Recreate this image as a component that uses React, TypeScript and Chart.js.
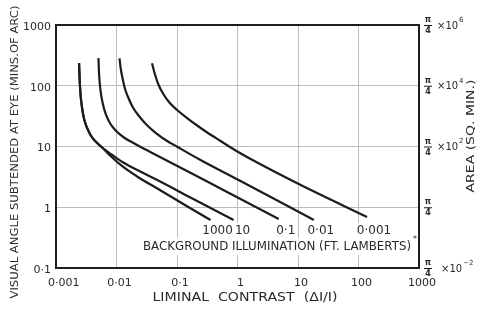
import React, { useEffect, useRef } from "react";
import { Chart, registerables } from "chart.js";

Chart.register(...registerables);

// ---- data ----
const xTickValues = [0.001, 0.01, 0.1, 1, 10, 100, 1000];
const xTickLabels = ["0·001", "0·01", "0·1", "1", "10", "100", "1000"];
const yTickValues = [0.1, 1, 10, 100, 1000];
const yTickLabels = ["0·1", "1", "10", "100", "1000"];
const areaExponents = ["-2", "", "2", "4", "6"]; // right axis: π/4 × 10^n

const illuminationLabels = ["1000", "10", "0·1", "0·01", "0·001"];

const curve1000X = [0.002406, 0.002462, 0.002549, 0.002699, 0.002912, 0.003266, 0.003805, 0.004605, 0.005793, 0.008488, 0.01291, 0.02472, 0.04731, 0.1488, 0.358];
const curve1000Y = [236.8, 124.4, 70.4, 43.0, 28.4, 20.2, 14.9, 11.86, 9.63, 6.59, 4.6, 2.97, 2.035, 1.029, 0.617];

const curve10X = [0.002406, 0.002462, 0.002549, 0.002699, 0.002912, 0.003266, 0.003805, 0.004605, 0.005793, 0.008488, 0.01291, 0.02472, 0.04731, 0.1668, 0.8616];
const curve10Y = [236.8, 124.4, 70.4, 43.0, 28.4, 20.2, 14.9, 11.86, 9.63, 7.25, 5.45, 3.88, 2.81, 1.447, 0.617];

const curve01X = [0.005029, 0.005165, 0.005429, 0.005903, 0.006621, 0.007861, 0.009886, 0.01327, 0.02042, 0.03622, 0.08716, 0.3157, 1.043, 4.804];
const curve01Y = [286.3, 150.3, 85.1, 52.0, 34.3, 23.9, 18.0, 14.07, 11.0, 8.12, 5.15, 2.654, 1.42, 0.641];

const curve001X = [0.01121, 0.01174, 0.01277, 0.01384, 0.01545, 0.01892, 0.02406, 0.03229, 0.04552, 0.06672, 0.1004, 0.2444, 1.043, 3.54, 18.28];
const curve001Y = [283.1, 192.3, 124.4, 88.4, 66.0, 43.0, 30.9, 22.2, 16.5, 12.56, 9.92, 6.0, 2.81, 1.475, 0.617];

const curve0001X = [0.03866, 0.043, 0.04971, 0.05948, 0.07482, 0.1004, 0.1432, 0.2098, 0.3157, 0.5246, 0.9301, 1.649, 11.12, 138.4];
const curve0001Y = [234.1, 156.1, 102.9, 73.1, 53.0, 39.9, 30.0, 22.6, 17.0, 12.32, 8.59, 6.23, 2.324, 0.691];

const curvesX = [curve1000X, curve10X, curve01X, curve001X, curve0001X];
const curvesY = [curve1000Y, curve10Y, curve01Y, curve001Y, curve0001Y];

const FONT = "'DejaVu Sans', 'Liberation Sans', sans-serif";
const INK = "#2a2a2a";

function fitText(ctx: CanvasRenderingContext2D, text: string, cx: number, cy: number, width: number, size: number, rot = 0) {
  ctx.save();
  ctx.font = `${size}px ${FONT}`;
  const w = ctx.measureText(text).width;
  ctx.translate(cx, cy);
  if (rot) ctx.rotate(rot);
  ctx.scale(width / w, 1);
  ctx.textAlign = "center";
  ctx.textBaseline = "middle";
  ctx.fillText(text, 0, 0);
  ctx.restore();
}

const overlay = {
  id: "overlay",
  afterDraw(chart: any) {
    const ctx: CanvasRenderingContext2D = chart.ctx;
    const { left, right, top, bottom } = chart.chartArea;
    const xs = chart.scales.x;
    const ys = chart.scales.y;
    ctx.save();
    ctx.fillStyle = INK;
    ctx.strokeStyle = INK;

    // curve labels with white backing
    ctx.font = `12px ${FONT}`;
    ctx.textAlign = "center";
    ctx.textBaseline = "middle";
    illuminationLabels.forEach((lab, i) => {
      const xArr = curvesX[i];
      const cx = xs.getPixelForValue(xArr[xArr.length - 1]) + (i === 1 ? 9 : 7);
      const w = ctx.measureText(lab).width;
      ctx.fillStyle = "#fff";
      ctx.fillRect(cx - w / 2 - 2, 223, w + 4, 16);
      ctx.fillStyle = INK;
      ctx.fillText(lab, cx, 231);
    });

    // background illumination caption
    ctx.fillStyle = "#fff";
    ctx.fillRect(138, 238, right - 139, 17);
    ctx.fillStyle = INK;
    fitText(ctx, "BACKGROUND ILLUMINATION (FT. LAMBERTS)", 277, 247, 268, 12);
    ctx.font = `8px ${FONT}`;
    ctx.fillText("*", 415, 240);

    // frame
    ctx.lineWidth = 2;
    ctx.strokeStyle = "#1e1e1e";
    ctx.strokeRect(left, top, right - left, bottom - top);

    // x tick labels
    ctx.fillStyle = INK;
    ctx.font = `11px ${FONT}`;
    ctx.textBaseline = "middle";
    xTickValues.forEach((v, i) => {
      const px = xs.getPixelForValue(v);
      if (i === 0) {
        ctx.textAlign = "left";
        ctx.fillText(xTickLabels[i], px - 8, 283);
      } else {
        ctx.textAlign = "center";
        ctx.fillText(xTickLabels[i], px + 3, 283);
      }
    });

    // y tick labels
    ctx.textAlign = "right";
    yTickValues.forEach((v, i) => {
      const py = ys.getPixelForValue(v);
      ctx.fillText(yTickLabels[i], 51, py + 2);
    });

    // right axis: π/4 × 10^n
    const ry = chart.scales.y2;
    yTickValues.forEach((v, i) => {
      const py = ry.getPixelForValue(v);
      ctx.font = `bold 8px ${FONT}`;
      ctx.textAlign = "center";
      ctx.fillText("π", 428, py - 5);
      ctx.fillText("4", 428, py + 6);
      ctx.lineWidth = 1;
      ctx.beginPath();
      ctx.moveTo(424, py + 0.5);
      ctx.lineTo(432, py + 0.5);
      ctx.stroke();
      const e = areaExponents[i];
      if (e) {
        ctx.font = `10px ${FONT}`;
        ctx.textAlign = "left";
        const bx = e.startsWith("-") ? 441 : 437;
        ctx.fillText("×10", bx, py + 1);
        const w = ctx.measureText("×10").width;
        ctx.font = `7px ${FONT}`;
        ctx.fillText(e.replace("-", "−"), bx + w + 1, py - 5);
      }
    });

    // axis titles
    ctx.fillStyle = INK;
    fitText(ctx, "VISUAL ANGLE SUBTENDED AT EYE (MINS.OF ARC)", 15, 152, 293, 11, -Math.PI / 2);
    fitText(ctx, "LIMINAL  CONTRAST  (ΔI/I)", 245, 298, 185, 13);
    fitText(ctx, "AREA (SQ. MIN.)", 471, 136, 113, 11, -Math.PI / 2);

    ctx.restore();
  },
};

export default function App() {
  const ref = useRef<HTMLCanvasElement | null>(null);
  useEffect(() => {
    if (!ref.current) return;
    const datasets = curvesX.map((xArr, i) => ({
      label: illuminationLabels[i],
      data: xArr.map((x, j) => ({ x, y: curvesY[i][j] })),
      borderColor: "#1c1c1c",
      borderWidth: 2.2,
      pointRadius: 0,
      cubicInterpolationMode: "monotone",
      fill: false,
    }));
    const chart = new Chart(ref.current, {
      type: "line",
      data: { datasets },
      plugins: [overlay],
      options: {
        animation: false,
        responsive: false,
        devicePixelRatio: 1,
        layout: { padding: { top: 25, left: 0, right: 0, bottom: 0 } },
        plugins: { legend: { display: false }, tooltip: { enabled: false } },
        scales: {
          x: {
            type: "logarithmic",
            min: 0.001,
            max: 1000,
            afterBuildTicks: (s: any) => {
              s.ticks = xTickValues.map((v) => ({ value: v }));
            },
            afterFit: (s: any) => {
              s.height = 45;
            },
            ticks: { display: false },
            grid: { color: "#bdbdbd", lineWidth: 1, drawTicks: false },
            border: { display: false },
          },
          y: {
            type: "logarithmic",
            min: 0.1,
            max: 1000,
            afterBuildTicks: (s: any) => {
              s.ticks = yTickValues.map((v) => ({ value: v }));
            },
            afterFit: (s: any) => {
              s.width = 56;
            },
            ticks: { display: false },
            grid: { color: "#bdbdbd", lineWidth: 1, drawTicks: false },
            border: { display: false },
          },
          y2: {
            type: "logarithmic",
            position: "right",
            min: 0.1,
            max: 1000,
            afterBuildTicks: (s: any) => {
              s.ticks = yTickValues.map((v) => ({ value: v }));
            },
            afterFit: (s: any) => {
              s.width = 61;
            },
            ticks: { display: false },
            grid: { display: false, drawTicks: false },
            border: { display: false },
          },
        },
      },
    } as any);
    return () => chart.destroy();
  }, []);
  return (
    <div style={{ position: "absolute", left: 0, top: 0, width: 480, height: 313, background: "#fff" }}>
      <canvas ref={ref} width={480} height={313} />
    </div>
  );
}
